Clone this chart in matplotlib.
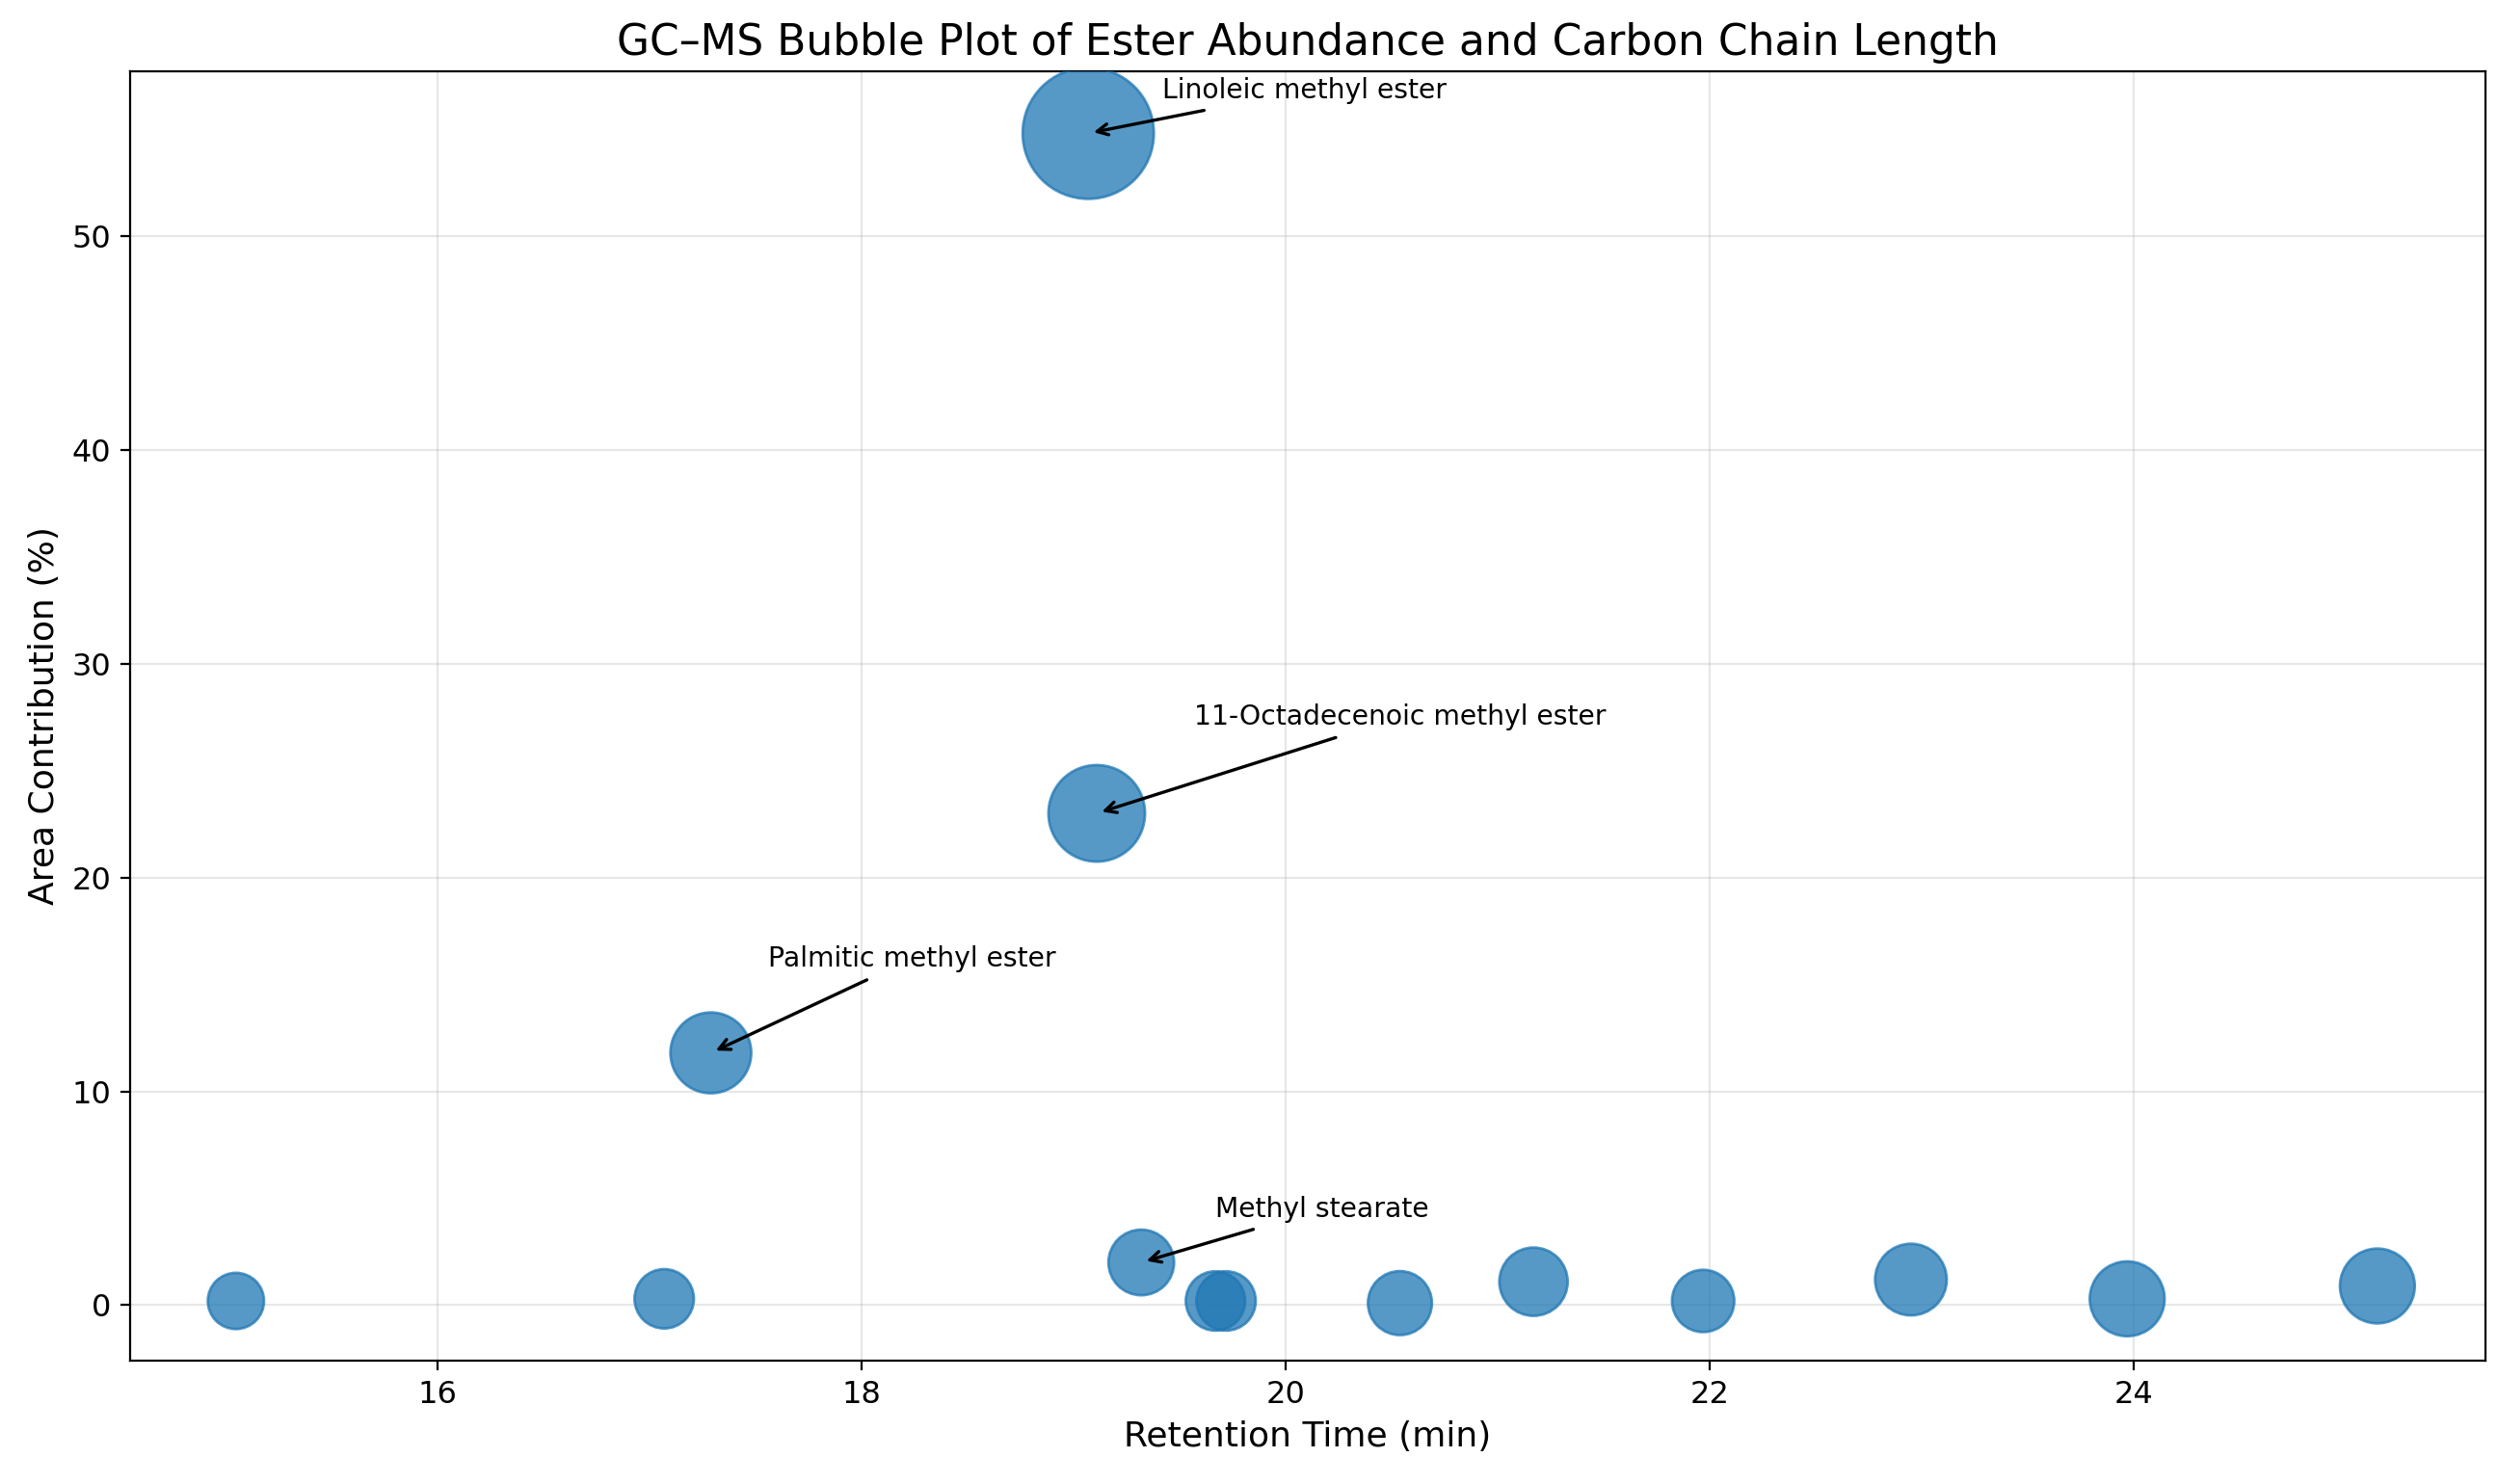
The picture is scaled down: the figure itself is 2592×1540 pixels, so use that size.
import matplotlib
matplotlib.use("Agg")
import matplotlib.pyplot as plt

rt = [15.05, 17.07, 17.29, 19.07, 19.11, 19.32, 19.67, 19.72, 20.54, 21.17, 21.97, 22.95, 23.97, 25.15]
area = [0.2, 0.3, 11.8, 54.8, 23.0, 2.0, 0.2, 0.2, 0.1, 1.1, 0.2, 1.2, 0.3, 0.9]
sizes = [440, 490, 910, 2400, 1300, 600, 490, 490, 570, 650, 540, 715, 780, 780]
labels = ["Palmitic methyl ester", "Linoleic methyl ester", "11-Octadecenoic methyl ester", "Methyl stearate"]
label_idx = [2, 3, 4, 5]
text_pos = [(17.56, 16.2), (19.42, 56.8), (19.57, 27.5), (19.67, 4.5)]

fig = plt.figure(figsize=(12.96, 7.7), dpi=200)
ax = fig.add_axes([0.052, 0.083, 0.943, 0.869])
ax.scatter(rt, area, s=sizes, color="C0", alpha=0.75, zorder=3)
for lab, i, (tx, ty) in zip(labels, label_idx, text_pos):
    ax.annotate(lab, xy=(rt[i], area[i]), xytext=(tx, ty), fontsize=10.2,
                va="center", ha="left",
                arrowprops=dict(arrowstyle="->", color="black", lw=1.2), zorder=4)
ax.set_xlim(14.55, 25.66)
ax.set_ylim(-2.6, 57.7)
ax.set_xticks([16, 18, 20, 22, 24])
ax.set_yticks([0, 10, 20, 30, 40, 50])
ax.tick_params(labelsize=11.5)
ax.grid(True, alpha=0.3)
ax.set_axisbelow(True)
ax.set_xlabel("Retention Time (min)", fontsize=13)
ax.set_ylabel("Area Contribution (%)", fontsize=13)
ax.set_title("GC–MS Bubble Plot of Ester Abundance and Carbon Chain Length", fontsize=15.8)
fig.savefig("out.png", dpi=200)
